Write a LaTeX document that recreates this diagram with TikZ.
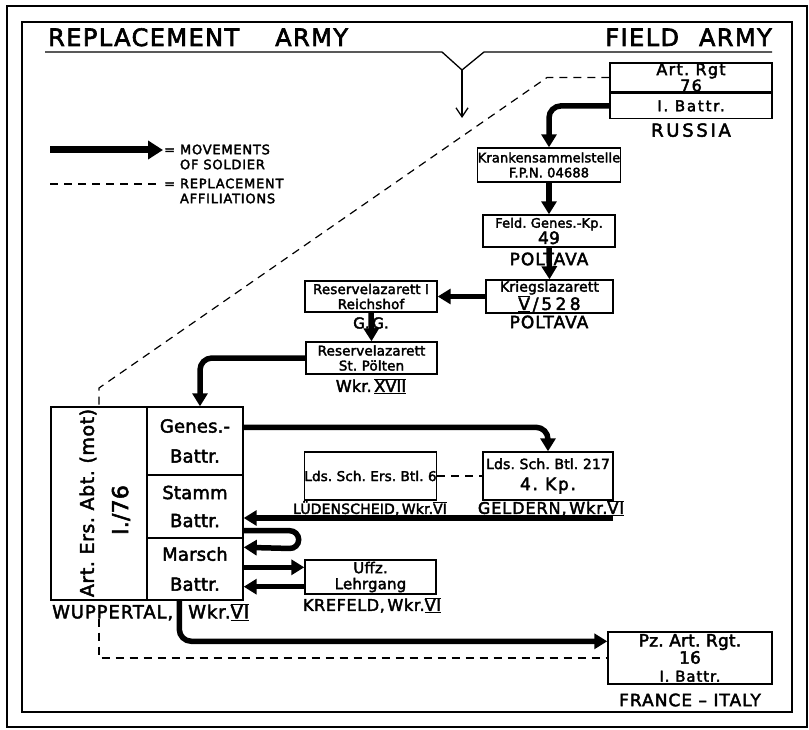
\documentclass[tikz,border=0pt]{standalone}
\usepackage{fontspec}
\setmainfont{DejaVu Sans}[FakeBold=2.5]
\usetikzlibrary{arrows.meta,calc}
\newcommand\rn[1]{$\overline{\underline{\hbox{#1}}}$}
\newcommand\fs[2]{\fontsize{#1}{#2}\selectfont\addfontfeature{LetterSpace=1}}
\newcommand\ls[1]{\addfontfeature{LetterSpace=#1}}
\begin{document}
\begin{tikzpicture}[x=1pt,y=-1pt,
  box/.style={draw, line width=1.4pt, inner sep=0pt, align=center},
  txt/.style={inner sep=0pt, align=center},
  move/.style={line width=5.5pt, -{Triangle[length=13pt,width=15pt]}, rounded corners=12pt},
  aff/.style={line width=1.2pt, dash pattern=on 8pt off 6pt},
  thinline/.style={line width=1.3pt}]
\useasboundingbox (0,0) rectangle (809,730);
% frames
\draw[line width=2pt] (7,6) rectangle (807,727);
\draw[line width=1.5pt] (22,22) rectangle (792,712);
% titles
\node[txt, anchor=base west, font=\fs{24}{26}\ls{6}] (t1) at (48,46) {REPLACEMENT\hspace{36pt}ARMY};
\node[txt, anchor=base east, font=\fs{24}{26}\ls{6}] (t2) at (772,46) {FIELD\hspace{20pt}ARMY};
\coordinate (vl) at (45,52);
\coordinate (vtip) at (462,70);
\coordinate (vr) at (772,52);
\coordinate (vend) at (462,118);
\draw[thinline] (vl) -- (442,52) -- (vtip) -- (484,52) -- (vr);
\draw[thinline, -{Straight Barb[length=9pt,width=12pt]}] (vtip) -- (vend);
% legend
\coordinate (la) at (50,150);
\coordinate (lb) at (163,150);
\draw[line width=7pt, -{Triangle[length=15pt,width=18pt]}] (la) -- (lb);
\node[txt, anchor=west, align=left, font=\fs{13}{15}\ls{6}] (leg1) at (164,157) {= MOVEMENTS\\\hphantom{= }OF SOLDIER};
\coordinate (lc) at (50,184);
\coordinate (ld) at (158,184);
\draw[aff] (lc) -- (ld);
\node[txt, anchor=west, align=left, font=\fs{13}{15}\ls{6}] (leg2) at (164,191) {= REPLACEMENT\\\hphantom{= }AFFILIATIONS};
% field army boxes
\node[box, minimum width=162pt, minimum height=29pt, font=\fs{16}{13}\ls{8}] (artrgt) at (691,77.5) {Art.\ Rgt\\76};
\node[box, minimum width=162pt, minimum height=25pt, font=\fs{15}{15}\ls{12}, anchor=north] (artbat) at (artrgt.south) {I.\ Battr.};
\node[txt, anchor=north, font=\fs{18}{20}\ls{15}] (russia) at ($(artbat.south)+(0,4)$) {RUSSIA};
\node[box, minimum width=134pt, minimum height=34pt, font=\fs{13}{15}] (kranken) at (549,165) {Krankensammelstelle\\F.P.N.\ 04688};
\node[box, minimum width=132pt, minimum height=32pt, font=\fs{13}{15}] (feld) at (549,231) {Feld.\ Genes.-Kp.\\{\fs{17}{15}49}};
\node[txt, font=\fs{17}{18}\ls{6}] (polt1) at (549,259) {POLTAVA};
\node[box, minimum width=127pt, minimum height=33pt, font=\fs{14}{16}] (krieg) at (549.5,296.5) {Kriegslazarett\\{\fs{17}{16}\ls{20}\rn{V}\,/\,528}};
\node[txt, font=\fs{17}{18}\ls{6}] (polt2) at (549,322) {POLTAVA};
\node[box, minimum width=132pt, minimum height=31pt, font=\fs{13.5}{15}] (reichshof) at (371,296.5) {Reservelazarett I\\Reichshof};
\node[txt, font=\fs{15}{16}] (gg) at (371,323) {G.\,G.};
\node[box, minimum width=131pt, minimum height=32pt, font=\fs{13.5}{15}] (stpoelten) at (371.5,358) {Reservelazarett\\St.\ Pölten};
\node[txt, font=\fs{16}{17}] (wkr17) at (371,386) {Wkr.\,\rn{XVII}};
% replacement unit
\node[box, minimum width=96pt, minimum height=193pt] (abt) at (99,503.5) {};
\node[txt, rotate=90, font=\fs{19}{20}\ls{3}] (abtname) at (88,503) {Art.\ Ers.\ Abt.\ (mot)};
\node[txt, rotate=90, font=\fs{22}{24}] (abtnum) at (121,510) {I./76};
\node[box, minimum width=96pt, minimum height=68pt, font=\fs{18}{30}] (genes) at (195,441) {Genes.-\\Battr.};
\node[box, minimum width=96pt, minimum height=63pt, font=\fs{18}{28}] (stamm) at (195,506.5) {Stamm\\Battr.};
\node[box, minimum width=96pt, minimum height=62pt, font=\fs{18}{30}] (marsch) at (195,569) {Marsch\\Battr.};
\node[txt, anchor=north west, font=\fs{18}{19}\ls{5}] (wup) at (52,603) {WUPPERTAL,\hspace{15pt}Wkr.\rn{VI}};
% home area boxes
\node[box, minimum width=131pt, minimum height=48pt, font=\fs{13.5}{16}] (lds6) at (370.5,476) {Lds.\ Sch.\ Ers.\ Btl.\ 6};
\node[txt, font=\fs{14}{16}] (lued) at (370,508.5) {LÜDENSCHEID,\,Wkr.\rn{VI}};
\node[box, minimum width=130pt, minimum height=48pt, font=\fs{14}{21}] (lds217) at (548,476) {Lds.\ Sch.\ Btl.\ 217\\{\fs{17}{21}\ls{10}4.\ Kp.}};
\node[txt, font=\fs{16}{17}\ls{6}] (geld) at (551,508) {GELDERN,\,Wkr.\rn{VI}};
\node[box, minimum width=131pt, minimum height=34pt, font=\fs{15}{16}] (uffz) at (370.5,577) {Uffz.\\Lehrgang};
\node[txt, font=\fs{16}{17}\ls{4}] (kref) at (372,605) {KREFELD,\,Wkr.\rn{VI}};
\node[box, minimum width=164pt, minimum height=52pt, font=\fs{17}{15}] (pz) at (690,658) {Pz.\ Art.\ Rgt.\\16\\[3pt]{\fs{15}{15}\ls{6}I.\ Battr.}};
\node[txt, font=\fs{17}{18}\ls{6}] (fr) at (690,700) {FRANCE -- ITALY};
% movements
\draw[move] (artbat.west) -| (kranken.north);
\draw[move] (kranken.south) -- (feld.north);
\draw[move] (feld.south) -- (krieg.north);
\draw[move] (krieg.west) -- (reichshof.east);
\draw[move] (reichshof.south) -- (stpoelten.north);
\draw[move] (stpoelten.west) -| ($(genes.north)+(5,0)$);
\draw[move] ($(genes.north east)+(0,21)$) -| (lds217.north);
\coordinate (gret) at (613,518);
\draw[move] (gret) -- (gret -| stamm.east);
\draw[move, rounded corners=9pt] ($(stamm.south east)+(0,-8)$) -- ++(55,0) -- ++(0,18) -- ($(marsch.north east)+(0,10)$);
\coordinate (m2) at ($(marsch.north east)+(0,30)$);
\draw[move] (m2) -- (m2 -| uffz.west);
\coordinate (u2) at ($(uffz.south west)+(0,-8)$);
\draw[move] (u2) -- (u2 -| marsch.east);
\coordinate (mb) at ($(marsch.south west)+(33,0)$);
\coordinate (pzin) at ($(pz.north west)+(0,10)$);
\draw[move] (mb) |- (pzin);
% affiliations
\draw[aff] (artrgt.west) -- (547,77.5) -- (99,388) -- (abt.north);
\draw[aff] (lds6.east) -- (lds217.west);
\coordinate (dstart) at ($(abt.south)+(0,18)$);
\draw[aff] (dstart) |- (pz.west);
\end{tikzpicture}
\end{document}
